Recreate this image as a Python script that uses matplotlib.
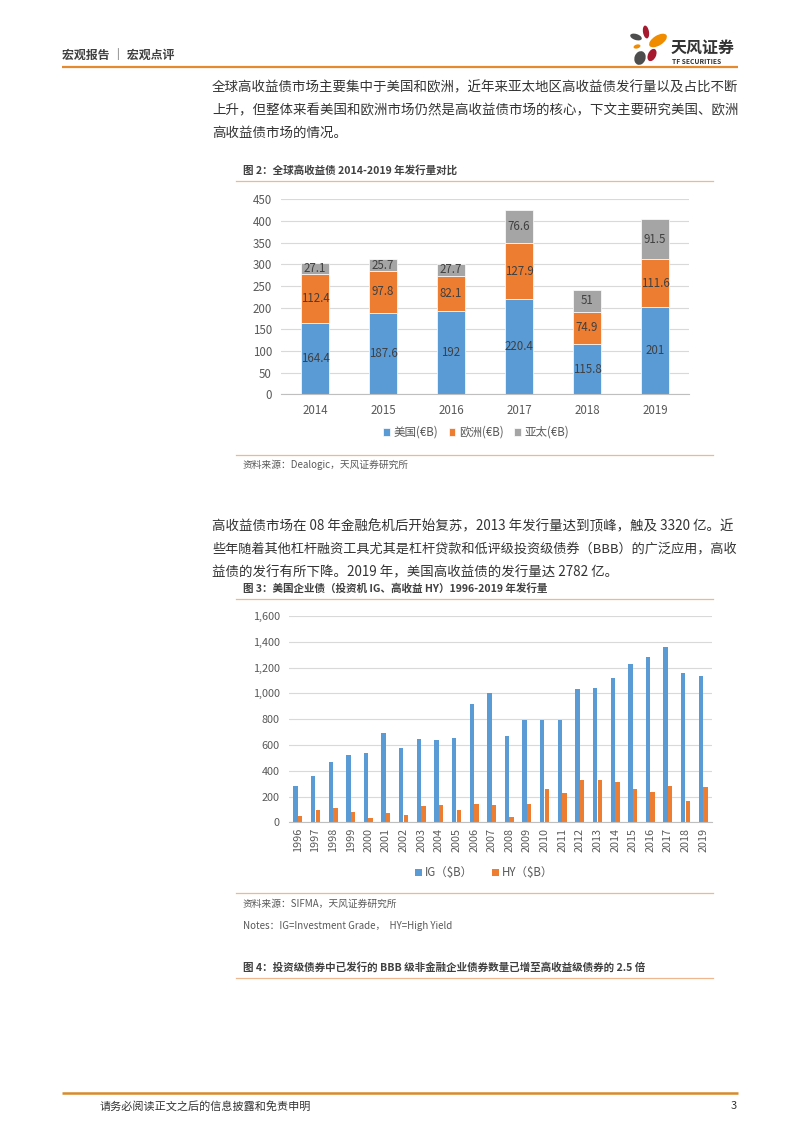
import matplotlib
matplotlib.use("Agg")
import matplotlib.pyplot as plt
import numpy as np
from matplotlib.patches import Ellipse
from matplotlib.ticker import FuncFormatter

plt.rcParams['font.family'] = ['Noto Sans CJK SC', 'DejaVu Sans']

# 图2 data
years2 = ['2014', '2015', '2016', '2017', '2018', '2019']
us = [164.4, 187.6, 192, 220.4, 115.8, 201]
eu = [112.4, 97.8, 82.1, 127.9, 74.9, 111.6]
ap = [27.1, 25.7, 27.7, 76.6, 51, 91.5]
names2 = ['美国(€B)', '欧洲(€B)', '亚太(€B)']

# 图3 data
years3 = [str(y) for y in range(1996, 2020)]
ig = [284, 359, 470, 520, 540, 690, 576, 644, 638, 651, 915, 1000,
      669, 793, 791, 793, 1034, 1042, 1117, 1225, 1279, 1357, 1160, 1135]
hy = [49, 93, 114, 80, 31, 75, 54, 127, 134, 96, 140, 134,
      41, 145, 258, 225, 328, 331, 313, 258, 238, 282, 168, 277]
names3 = ['IG（$B）', 'HY（$B）']

BLUE = '#5B9BD5'
ORANGE = '#ED7D31'
GRAY = '#A5A5A5'
TXT = '#404040'
TICK = '#595959'
GRID = '#D9D9D9'

W, H = 800, 1132
fig = plt.figure(figsize=(W / 100, H / 100), dpi=100)

# page layer in pixel coordinates
bg = fig.add_axes([0, 0, 1, 1])
bg.set_xlim(0, W)
bg.set_ylim(H, 0)
bg.axis('off')

# header
bg.text(62, 56, '宏观报告 ｜ 宏观点评', fontsize=8.6, fontweight='bold', color=TXT, va='center')
bg.plot([62, 738], [66.5, 66.5], color='#E58A2E', lw=1.6, solid_capstyle='butt')

# logo
petals = [
    ((646, 32), 6, 13, -10, '#A6192E'),
    ((658, 40.5), 20, 10, -32, '#F08C00'),
    ((636, 37), 12, 6, 18, '#4D4D4D'),
    ((637, 46.5), 7, 4, -15, '#F08C00'),
    ((640, 58), 11, 14, 20, '#4D4D4D'),
    ((652, 55), 8, 13, 25, '#A6192E'),
]
for c, w, h, a, col in petals:
    bg.add_patch(Ellipse(c, w, h, angle=a, color=col, lw=0))
bg.text(671, 48, '天风证券', fontsize=11.5, fontweight='bold', color='#333333', va='center')
bg.text(672, 61.5, 'TF SECURITIES', fontsize=4.8, fontweight='bold', color='#333333', va='center')

# body paragraphs (full lines are justified to the right margin)
p1 = ['全球高收益债市场主要集中于美国和欧洲，近年来亚太地区高收益债发行量以及占比不断',
      '上升，但整体来看美国和欧洲市场仍然是高收益债市场的核心，下文主要研究美国、欧洲',
      '高收益债市场的情况。']
p2 = ['高收益债市场在 08 年金融危机后开始复苏，2013 年发行量达到顶峰，触及 3320 亿。近',
      '些年随着其他杠杆融资工具尤其是杠杆贷款和低评级投资级债券（BBB）的广泛应用，高收',
      '益债的发行有所下降。2019 年，美国高收益债的发行量达 2782 亿。']
full_lines = []
for y0, para in ((87, p1), (526, p2)):
    for i, s in enumerate(para):
        t = bg.text(212, y0 + i * 23, s, fontsize=9.7, color='#333333', va='center')
        if i < len(para) - 1:
            full_lines.append(t)
fig.canvas.draw()
for t in full_lines:
    w = t.get_window_extent().width
    if w > 526:
        t.set_fontsize(9.7 * 526 / w)

# figure 2 caption
bg.text(243, 170, '图 2：全球高收益债 2014-2019 年发行量对比', fontsize=7.6, fontweight='bold',
        color=TXT, va='center')
bg.plot([236, 713], [181, 181], color='#EFB78F', lw=0.9)
bg.plot([236, 713], [455, 455], color='#EFB78F', lw=0.9)
bg.text(243, 465, '资料来源：Dealogic，天风证券研究所', fontsize=7, color=TICK, va='center')

# figure 3 caption
bg.text(243, 589, '图 3：美国企业债（投资机 IG、高收益 HY）1996-2019 年发行量', fontsize=7.6,
        fontweight='bold', color=TXT, va='center')
bg.plot([236, 713], [599, 599], color='#EFB78F', lw=0.9)
bg.plot([236, 713], [893, 893], color='#EFB78F', lw=0.9)
bg.text(243, 904, '资料来源：SIFMA，天风证券研究所', fontsize=7, color=TICK, va='center')
bg.text(243, 926, 'Notes：IG=Investment Grade，  HY=High Yield', fontsize=7, color=TICK, va='center')

# figure 4 caption
bg.text(243, 967, '图 4：投资级债券中已发行的 BBB 级非金融企业债券数量已增至高收益级债券的 2.5 倍',
        fontsize=7.6, fontweight='bold', color=TXT, va='center')
bg.plot([236, 713], [978, 978], color='#EFB78F', lw=0.9)

# footer
bg.plot([62, 738], [1093, 1093], color='#D98A2B', lw=1.8, solid_capstyle='butt')
bg.text(100, 1106, '请务必阅读正文之后的信息披露和免责申明', fontsize=8, color='#333333', va='center')
bg.text(737, 1106, '3', fontsize=8, color='#333333', va='center', ha='right')


def style(ax, fs):
    for s in ['top', 'right', 'left']:
        ax.spines[s].set_visible(False)
    ax.spines['bottom'].set_color('#BFBFBF')
    ax.spines['bottom'].set_linewidth(0.8)
    ax.grid(axis='y', color=GRID, lw=0.8)
    ax.set_axisbelow(True)
    ax.tick_params(length=0, labelsize=fs, colors=TICK)
    ax.tick_params(axis='y', pad=6.5)


# chart 2
L2, R2, T2, B2 = 281, 689, 199.3, 394.3
ax2 = fig.add_axes([L2 / W, 1 - B2 / H, (R2 - L2) / W, (B2 - T2) / H])
x2 = np.arange(len(years2))
bw = 0.41
b1 = ax2.bar(x2, us, bw, color=BLUE, edgecolor='white', lw=0.5, label=names2[0])
b2 = ax2.bar(x2, eu, bw, bottom=us, color=ORANGE, edgecolor='white', lw=0.5, label=names2[1])
bot3 = np.array(us) + np.array(eu)
b3 = ax2.bar(x2, ap, bw, bottom=bot3, color=GRAY, edgecolor='white', lw=0.5, label=names2[2])
for bars in (b1, b2, b3):
    ax2.bar_label(bars, labels=[f'{v:g}' for v in bars.datavalues], label_type='center',
                  fontsize=8.3, color=TXT)
ax2.set_xlim(-0.5, len(years2) - 0.5)
ax2.set_ylim(0, 450)
ax2.set_yticks(np.arange(0, 451, 50))
ax2.set_xticks(x2)
ax2.set_xticklabels(years2)
style(ax2, 8.3)
ax2.tick_params(axis='x', pad=7)
ax2.legend(loc='center', bbox_to_anchor=((476 - L2) / (R2 - L2), -(432.5 - B2) / (B2 - T2)),
           ncol=3, frameon=False, fontsize=8.3, handlelength=0.6, handleheight=0.6,
           handletextpad=0.3, columnspacing=0.9, labelcolor=TICK)

# chart 3
L3, R3, T3, B3 = 289, 712, 616, 822.3
ax3 = fig.add_axes([L3 / W, 1 - B3 / H, (R3 - L3) / W, (B3 - T3) / H])
x3 = np.arange(len(years3))
w3 = 0.245
ax3.bar(x3 - 0.13, ig, w3, color=BLUE, label=names3[0])
ax3.bar(x3 + 0.13, hy, w3, color=ORANGE, label=names3[1])
ax3.set_xlim(-0.5, len(years3) - 0.5)
ax3.set_ylim(0, 1600)
ax3.set_yticks(np.arange(0, 1601, 200))
ax3.yaxis.set_major_formatter(FuncFormatter(lambda v, p: f'{v:,.0f}'))
ax3.set_xticks(x3)
ax3.set_xticklabels(years3, rotation=90)
style(ax3, 7.8)
ax3.tick_params(axis='x', pad=4)
ax3.legend(loc='center', bbox_to_anchor=((484 - L3) / (R3 - L3), -(873 - B3) / (B3 - T3)),
           ncol=2, frameon=False, fontsize=8.3, handlelength=0.6, handleheight=0.6,
           handletextpad=0.2, columnspacing=1.7, labelcolor=TICK)

fig.savefig('out.png', dpi=100)
